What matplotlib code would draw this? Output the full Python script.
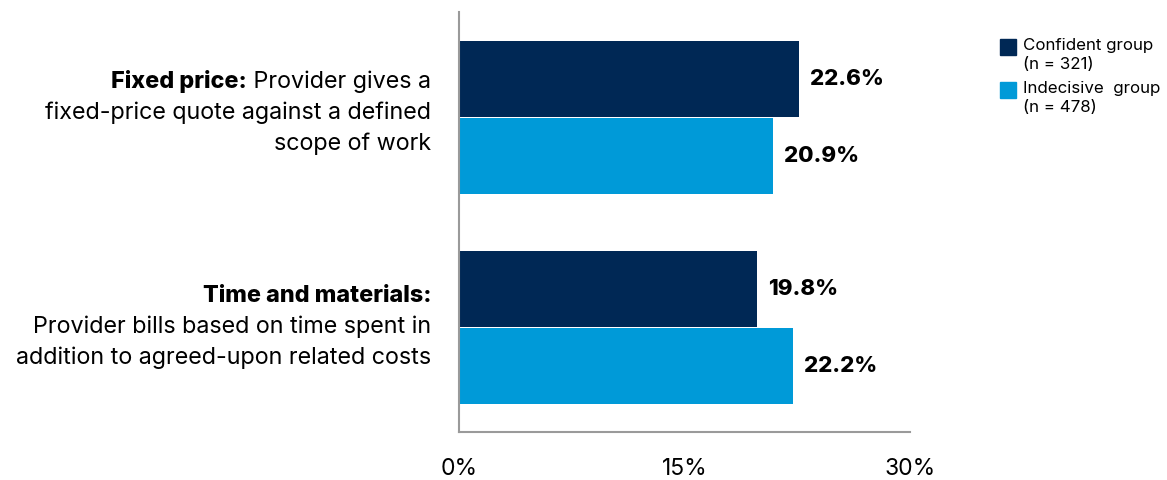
import matplotlib.pyplot as plt
from matplotlib.patches import Rectangle
import numpy as np

plt.rcParams['font.family'] = ['Inter', 'DejaVu Sans']

groups = ['Fixed price', 'Time and materials']
confident = [22.6, 19.8]
indecisive = [20.9, 22.2]
series_names = ['Confident group\n(n = 321)', 'Indecisive  group\n(n = 478)']
colors = ['#002855', '#009ad8']
ticks = [0, 15, 30]
tick_labels = ['0%', '15%', '30%']

# label lines: (bold part, regular part)
label_lines = [
    [('Fixed price:', ' Provider gives a'), ('', 'fixed-price quote against a defined'), ('', 'scope of work')],
    [('Time and materials:', ''), ('', 'Provider bills based on time spent in'), ('', 'addition to agreed-upon related costs')],
]

fig = plt.figure(figsize=(11.67, 4.8), dpi=100)
ax = fig.add_axes([459/1167, 1-432/480, (910-459)/1167, 420/480])

y = np.arange(len(groups))
h = 0.362
ax.barh(y - 0.183, confident, height=h, color=colors[0])
ax.barh(y + 0.186, indecisive, height=h, color=colors[1])

for yi, v in zip(y - 0.183, confident):
    ax.annotate(f'{v}%', (v, yi), xytext=(8, 0), textcoords='offset points',
                va='center', ha='left', fontsize=16, fontweight='heavy', color='black')
for yi, v in zip(y + 0.186, indecisive):
    ax.annotate(f'{v}%', (v, yi), xytext=(8, 0), textcoords='offset points',
                va='center', ha='left', fontsize=16, fontweight='heavy', color='black')

ax.set_xlim(0, 30)
ax.set_ylim(1.5, -0.5)
ax.set_xticks(ticks)
ax.set_xticklabels(tick_labels, fontsize=16.5)
ax.set_yticks([])
ax.tick_params(axis='x', length=0, pad=19)
for s in ['top', 'right']:
    ax.spines[s].set_visible(False)
for s in ['left', 'bottom']:
    ax.spines[s].set_color('#9a9a9a')
    ax.spines[s].set_linewidth(1.5)

fig.canvas.draw()
for gi, lines in enumerate(label_lines):
    center = gi - 0.02 if gi == 0 else gi
    offs = [22, 0, -22]
    for (bold, reg), off in zip(lines, offs):
        if reg:
            t = ax.annotate(reg, (0, center), xytext=(-20, off), textcoords='offset points',
                            ha='right', va='center', fontsize=16.8, annotation_clip=False)
            if bold:
                ax.annotate(bold, xy=(0, 0), xycoords=t, ha='right', va='bottom',
                            fontsize=16.8, fontweight='heavy')
        else:
            ax.annotate(bold, (0, center), xytext=(-20, off), textcoords='offset points',
                        ha='right', va='center', fontsize=16.8, fontweight='heavy',
                        annotation_clip=False)

# legend
for i, (name, c) in enumerate(zip(series_names, colors)):
    top = 39 + i * 43
    fig.patches.append(Rectangle((1000/1167, 1-(top+16)/480), 16/1167, 16/480,
                                 transform=fig.transFigure, color=c))
    fig.text(1023/1167, 1-(top-1)/480, name, fontsize=12.2, va='top', ha='left',
             linespacing=1.35)

fig.savefig('out.png', dpi=100)
